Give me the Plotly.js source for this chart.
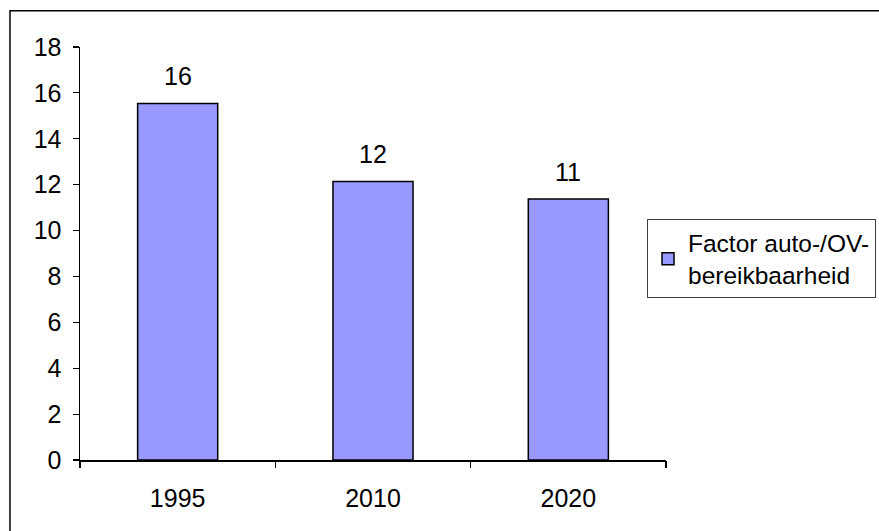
<!DOCTYPE html>
<html>
<head>
<meta charset="utf-8">
<script src="https://cdn.plot.ly/plotly-3.0.1.min.js"></script>
<style>
html,body{margin:0;padding:0;background:#fff;}
#chart{width:879px;height:531px;}
</style>
</head>
<body>
<div id="chart"></div>
<script>
const categories = ["1995", "2010", "2020"];
const values = [15.54, 12.14, 11.38];
const seriesName = "Factor auto-/OV-<br>bereikbaarheid";
const yTicks = [0, 2, 4, 6, 8, 10, 12, 14, 16, 18];

function mkFont(s) { return {family: "Liberation Sans, Arial, sans-serif", size: s || 25, color: "#000"}; }

const trace = {
  type: "bar",
  x: [0, 1, 2],
  y: values,
  name: seriesName,
  width: 0.41,
  marker: {color: "#9999FF", line: {color: "#000", width: 1.5}},
  hoverinfo: "none",
  showlegend: true
};

const annotations = values.map((v, i) => ({
  x: i, y: v, xref: "x", yref: "y",
  text: String(Math.round(v)),
  showarrow: false, xanchor: "center", yanchor: "middle", yshift: 27,
  font: mkFont()
}));

const layout = {
  width: 879, height: 531,
  margin: {l: 80, r: 213, t: 47, b: 71, autoexpand: false},
  paper_bgcolor: "#fff", plot_bgcolor: "#fff",
  font: mkFont(),
  showlegend: true,
  xaxis: {
    type: "linear",
    range: [-0.5, 2.5],
    tickvals: [0, 1, 2],
    ticktext: categories,
    showline: true, linecolor: "#000", linewidth: 1.5,
    ticks: "", showgrid: false, zeroline: false,
    tickfont: mkFont(),
    ticklabelstandoff: 15
  },
  xaxis2: {
    overlaying: "x", anchor: "y",
    range: [-0.5, 2.5],
    tickvals: [-0.5, 0.5, 1.5, 2.5],
    showticklabels: false,
    ticks: "outside", ticklen: 7, tickcolor: "#000", tickwidth: 1.2,
    showline: false, showgrid: false, zeroline: false,
    side: "bottom"
  },
  yaxis: {
    range: [0, 18],
    tickvals: yTicks,
    ticktext: yTicks.map(String),
    showline: true, linecolor: "#000", linewidth: 1.5,
    ticks: "outside", ticklen: 6, tickcolor: "#000", tickwidth: 1.2,
    showgrid: false, zeroline: false,
    tickfont: mkFont(),
    ticklabelstandoff: 6
  },
  legend: {
    x: 0.9676, y: 0.5827, xanchor: "left", yanchor: "top",
    bordercolor: "#404040", borderwidth: 1, bgcolor: "#fff",
    font: mkFont(24.5)
  },
  annotations: annotations,
  shapes: [{
    type: "path", xref: "paper", yref: "paper",
    path: "M -0.1195 -0.2 L -0.1195 1.0876 L 1.4 1.0876",
    line: {color: "#000", width: 1.5}
  }]
};

const tickTrace = {type: "scatter", x: [], y: [], xaxis: "x2", yaxis: "y", showlegend: false, hoverinfo: "none"};

Plotly.newPlot("chart", [trace, tickTrace], layout, {displayModeBar: false, staticPlot: true});
</script>
</body>
</html>
